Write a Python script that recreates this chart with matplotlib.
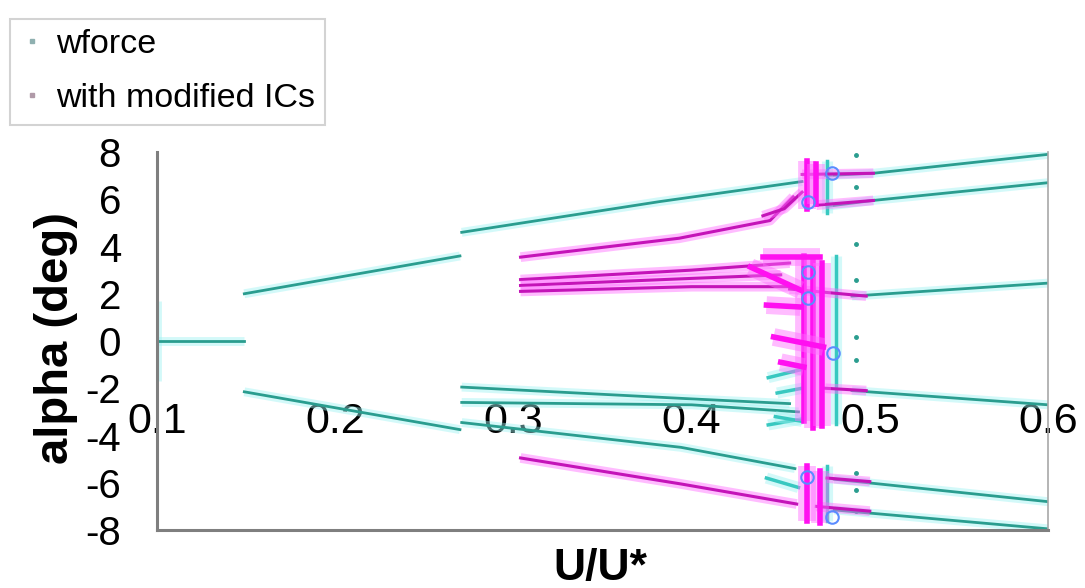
import matplotlib
matplotlib.use('Agg')
import matplotlib.pyplot as plt
from matplotlib.lines import Line2D

plt.rcParams['font.family'] = ['Liberation Sans', 'DejaVu Sans']

# ---- data (U/U*, alpha in deg) ----
# wforce: one list per branch
wforce_x = [
    [0.100, 0.100],
    [0.100, 0.149],
    [0.149, 0.270],
    [0.149, 0.270],
    [0.271, 0.382, 0.462],
    [0.271, 0.394, 0.458],
    [0.271, 0.400, 0.455],
    [0.271, 0.400, 0.460],
    [0.475, 0.502, 0.600],
    [0.476, 0.502, 0.600],
    [0.490, 0.600],
    [0.490, 0.600],
    [0.480, 0.600],
    [0.480, 0.600],
]
wforce_y = [
    [1.7, -1.7],
    [0.0, 0.0],
    [2.0, 3.6],
    [-2.15, -3.75],
    [4.6, 5.9, 6.75],
    [-3.45, -4.5, -5.4],
    [-1.95, -2.45, -2.65],
    [-2.6, -2.7, -3.0],
    [7.0, 7.1, 7.9],
    [5.7, 5.95, 6.7],
    [1.9, 2.45],
    [-2.1, -2.7],
    [-5.85, -6.8],
    [-7.15, -7.95],
]
# wforce scatter inside the transition region near U/U* = 0.47
wforce_cloud_x = [[0.481, 0.481], [0.476, 0.476], [0.476, 0.476],
                  [0.443, 0.462], [0.443, 0.462], [0.447, 0.462], [0.442, 0.460],
                  [0.448, 0.462]]
wforce_cloud_y = [[3.6, -3.5], [7.6, 5.4], [-5.3, -7.6],
                  [-1.55, -1.2], [-3.55, -3.3], [-3.2, -3.4], [-5.8, -6.2],
                  [-2.2, -2.0]]
wforce_dots_x = [0.492, 0.492, 0.492, 0.492, 0.492, 0.492, 0.492, 0.492, 0.492]
wforce_dots_y = [7.87, 6.5, 4.1, 2.58, 0.17, -0.8, -5.6, -6.3, -7.2]
ring_x = [0.4653, 0.479, 0.4653, 0.4653, 0.4794, 0.465, 0.479]
ring_y = [5.88, 7.1, 2.92, 1.82, -0.5, -5.75, -7.45]

# with modified ICs
mod_x = [
    [0.304, 0.393, 0.444, 0.457],
    [0.440, 0.452, 0.462],
    [0.304, 0.400, 0.455],
    [0.304, 0.400, 0.450],
    [0.304, 0.400, 0.455],
    [0.304, 0.394, 0.459],
    [0.462, 0.502],
    [0.470, 0.502],
    [0.455, 0.498],
    [0.475, 0.498],
    [0.476, 0.500],
    [0.470, 0.500],
]
mod_y = [
    [3.55, 4.35, 5.1, 6.1],
    [5.3, 5.6, 6.3],
    [2.6, 3.0, 3.3],
    [2.35, 2.65, 2.8],
    [2.1, 2.3, 2.3],
    [-4.95, -6.05, -6.9],
    [7.05, 7.1],
    [5.75, 5.95],
    [2.2, 1.9],
    [-2.0, -2.1],
    [-5.8, -5.95],
    [-7.0, -7.2],
]
mod_cloud_x = [[0.463, 0.463], [0.468, 0.468], [0.473, 0.473],
               [0.465, 0.465], [0.470, 0.470],
               [0.465, 0.465], [0.472, 0.472],
               [0.440, 0.472], [0.446, 0.474],
               [0.433, 0.461], [0.442, 0.461], [0.450, 0.463]]
mod_cloud_y = [[3.6, -3.4], [3.5, -3.7], [3.3, -3.6],
               [7.6, 5.6], [7.5, 5.8],
               [-5.3, -7.6], [-5.5, -7.7],
               [3.55, 3.55], [0.17, -0.25],
               [3.13, 2.16], [1.52, 1.44], [-0.9, -1.1]]

x_ticks = [0.1, 0.2, 0.3, 0.4, 0.5, 0.6]
x_labels = ['0.1', '0.2', '0.3', '0.4', '0.5', '0.6']
y_ticks = [-8, -6, -4, -2, 0, 2, 4, 6, 8]
y_labels = ['-8', '-6', '-4', '-2', '0', '2', '4', '6', '8']

cyan = '#2a9d8f'
cyan_halo = '#9ff3f3'
mag = '#c414b8'
mag_halo = '#ff6cff'

fig = plt.figure(figsize=(10.85, 5.88), dpi=100)
ax = fig.add_axes([0.1447, 0.0986, 0.8212, 0.6429])


def branch(xs, ys, c, halo, lw=2.0):
    ax.plot(xs, ys, color=halo, lw=lw * 3.2, alpha=0.45, solid_capstyle='butt')
    ax.plot(xs, ys, color=c, lw=lw)


for xs, ys in zip(wforce_x, wforce_y):
    branch(xs, ys, cyan, cyan_halo)
for xs, ys in zip(wforce_cloud_x, wforce_cloud_y):
    branch(xs, ys, '#38c8c0', cyan_halo, 2.5)
ax.plot(wforce_dots_x, wforce_dots_y, '.', color=cyan, ms=5)

for xs, ys in zip(mod_x, mod_y):
    branch(xs, ys, mag, mag_halo, 2.2)
for xs, ys in zip(mod_cloud_x, mod_cloud_y):
    branch(xs, ys, '#ff10f0', mag_halo, 4.0)
ax.plot(ring_x, ring_y, 'o', mfc='none', mec='#5a8cff', ms=9, mew=1.5)

ax.set_xlim(0.1, 0.6)
ax.set_ylim(-8, 8)
ax.set_xticks(x_ticks)
ax.set_xticklabels(x_labels)
ax.set_yticks(y_ticks)
ax.set_yticklabels(y_labels)
ax.tick_params(axis='x', length=0, pad=-92, labelsize=31)
ax.tick_params(axis='y', length=0, pad=26, labelsize=29)

ax.spines['top'].set_visible(False)
for s in ['left', 'bottom']:
    ax.spines[s].set_color('#7f7f7f')
    ax.spines[s].set_linewidth(2.2)
ax.spines['right'].set_color('#a8a8a8')
ax.spines['right'].set_linewidth(1.2)

ax.set_ylabel('alpha (deg)', fontsize=34, fontweight='bold')
ax.yaxis.set_label_coords(-0.089, 0.508)
ax.set_xlabel('U/U*', fontsize=32, fontweight='bold')
ax.xaxis.set_label_coords(0.497, -0.048)

handles = [Line2D([], [], marker='s', ls='none', ms=3, color='#8fb0b0'),
           Line2D([], [], marker='s', ls='none', ms=3, color='#b09aa8')]
leg = fig.legend(handles, ['wforce', 'with modified ICs'], loc='upper left',
                 bbox_to_anchor=(10 / 1085, 1 - 19 / 588), bbox_transform=fig.transFigure,
                 borderaxespad=0, fontsize=24.5, handlelength=0.7, handletextpad=0.36,
                 borderpad=0.3, labelspacing=0.68, fancybox=False)
leg.get_frame().set_edgecolor('#c8c8c8')
leg.get_frame().set_linewidth(1.5)

fig.savefig('out.png', dpi=100)
